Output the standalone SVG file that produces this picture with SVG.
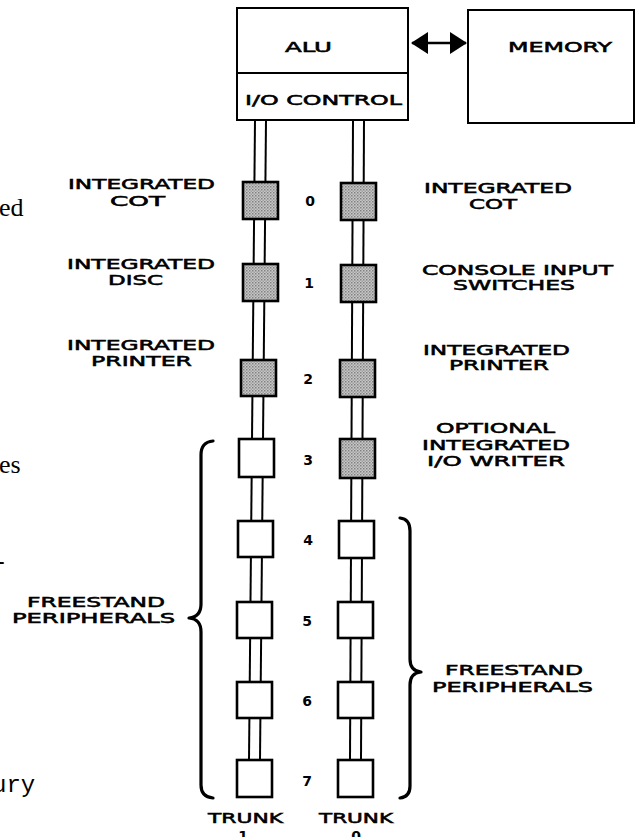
<svg xmlns="http://www.w3.org/2000/svg" width="636" height="837" viewBox="0 0 636 837">
<style>
.box{fill:#fff;stroke:#000;stroke-width:2}
.dev{stroke:#000;stroke-width:2.6}
.shade{fill:url(#dots)}
.plain{fill:#fff}
.trunk{stroke:#000;stroke-width:2;fill:none}
.brace{stroke:#000;stroke-width:3.2;fill:none;stroke-linecap:round;stroke-linejoin:round}
.lbl{font-family:"DejaVu Sans",sans-serif;font-weight:normal;font-size:14px;fill:#000;stroke:#000;stroke-width:0.55}
.num{font-family:"DejaVu Sans",sans-serif;font-weight:bold;font-size:14px;fill:#000;text-anchor:middle}
.frag{font-family:"Liberation Serif",serif;font-size:26px;fill:#000}
.mono{font-family:"Liberation Mono",monospace;font-size:24px;fill:#000}
</style>
<defs>
<pattern id="dots" width="3" height="3" patternUnits="userSpaceOnUse">
<rect width="3" height="3" fill="#c8c8c8"/>
<rect width="1.5" height="1.5" fill="#808080"/>
<rect x="1.5" y="1.5" width="1.5" height="1.5" fill="#a0a0a0"/>
</pattern>
<marker id="ah" viewBox="0 0 17 22" refX="16" refY="11" markerWidth="17" markerHeight="22" markerUnits="userSpaceOnUse" orient="auto-start-reverse">
<path d="M0,0 L17,11 L0,22 Z" fill="#000"/>
</marker>
</defs>

<!-- page fragments at left edge -->
<text class="frag" x="-1" y="216">ed</text>
<text class="frag" x="-1" y="473">es</text>
<text class="frag" x="-4" y="569">-</text>
<text class="mono" x="-8" y="792">ury</text>

<g id="connectors">
<line x1="412" y1="43" x2="466" y2="43" stroke="#000" stroke-width="2.5" marker-start="url(#ah)" marker-end="url(#ah)"/>
<line class="trunk" x1="255" y1="120" x2="249" y2="760"/>
<line class="trunk" x1="266" y1="120" x2="260" y2="760"/>
<line class="trunk" x1="353" y1="120" x2="350" y2="760"/>
<line class="trunk" x1="364" y1="120" x2="361" y2="760"/>
</g>

<g id="alu">
<rect class="box" x="237" y="8" width="171" height="112"/>
<line x1="237" y1="73" x2="408" y2="73" stroke="#000" stroke-width="2"/>
<text class="lbl" x="285" y="52" textLength="47" lengthAdjust="spacingAndGlyphs">ALU</text>
<text class="lbl" x="245" y="105" textLength="157" lengthAdjust="spacingAndGlyphs">I/O CONTROL</text>
</g>

<g id="memory">
<rect class="box" x="468" y="10" width="166" height="113"/>
<text class="lbl" x="508" y="52" textLength="104" lengthAdjust="spacingAndGlyphs">MEMORY</text>
</g>

<g id="trunk1-devices">
<rect class="dev shade" x="243" y="182" width="35" height="37"/>
<rect class="dev shade" x="243" y="264" width="35" height="37"/>
<rect class="dev shade" x="241" y="360" width="35" height="36"/>
<rect class="dev plain" x="239" y="439" width="35" height="38"/>
<rect class="dev plain" x="238" y="521" width="35" height="36"/>
<rect class="dev plain" x="237" y="602" width="35" height="36"/>
<rect class="dev plain" x="237" y="682" width="35" height="36"/>
<rect class="dev plain" x="237" y="760" width="35" height="37"/>
</g>

<g id="trunk0-devices">
<rect class="dev shade" x="341" y="183" width="35" height="37"/>
<rect class="dev shade" x="341" y="265" width="35" height="37"/>
<rect class="dev shade" x="340" y="360" width="35" height="37"/>
<rect class="dev shade" x="340" y="439" width="35" height="39"/>
<rect class="dev plain" x="339" y="521" width="35" height="37"/>
<rect class="dev plain" x="338" y="602" width="35" height="36"/>
<rect class="dev plain" x="338" y="682" width="35" height="36"/>
<rect class="dev plain" x="338" y="760" width="35" height="37"/>
</g>

<g id="numbers">
<text class="num" x="310" y="206">0</text>
<text class="num" x="309" y="288">1</text>
<text class="num" x="308" y="384">2</text>
<text class="num" x="308" y="465">3</text>
<text class="num" x="308" y="545">4</text>
<text class="num" x="307" y="626">5</text>
<text class="num" x="307" y="706">6</text>
<text class="num" x="307" y="786">7</text>
</g>

<g id="left-labels">
<text class="lbl" x="68" y="189" textLength="147" lengthAdjust="spacingAndGlyphs">INTEGRATED</text>
<text class="lbl" x="110" y="206" textLength="55" lengthAdjust="spacingAndGlyphs">COT</text>
<text class="lbl" x="67" y="269" textLength="148" lengthAdjust="spacingAndGlyphs">INTEGRATED</text>
<text class="lbl" x="108" y="285" textLength="55" lengthAdjust="spacingAndGlyphs">DISC</text>
<text class="lbl" x="67" y="350" textLength="148" lengthAdjust="spacingAndGlyphs">INTEGRATED</text>
<text class="lbl" x="91" y="366" textLength="101" lengthAdjust="spacingAndGlyphs">PRINTER</text>
</g>

<g id="right-labels">
<text class="lbl" x="424" y="193" textLength="148" lengthAdjust="spacingAndGlyphs">INTEGRATED</text>
<text class="lbl" x="469" y="209" textLength="48" lengthAdjust="spacingAndGlyphs">COT</text>
<text class="lbl" x="422" y="275" textLength="191" lengthAdjust="spacingAndGlyphs">CONSOLE INPUT</text>
<text class="lbl" x="453" y="290" textLength="122" lengthAdjust="spacingAndGlyphs">SWITCHES</text>
<text class="lbl" x="423" y="355" textLength="147" lengthAdjust="spacingAndGlyphs">INTEGRATED</text>
<text class="lbl" x="449" y="370" textLength="100" lengthAdjust="spacingAndGlyphs">PRINTER</text>
<text class="lbl" x="436" y="433" textLength="119" lengthAdjust="spacingAndGlyphs">OPTIONAL</text>
<text class="lbl" x="422" y="450" textLength="148" lengthAdjust="spacingAndGlyphs">INTEGRATED</text>
<text class="lbl" x="427" y="466" textLength="138" lengthAdjust="spacingAndGlyphs">I/O WRITER</text>
</g>

<g id="left-group">
<path class="brace" d="M213,441 Q201,442 201,455 L201,604 Q201,617 189,618 Q201,619 201,632 L201,785 Q201,797 213,798"/>
<text class="lbl" x="27" y="607" textLength="138" lengthAdjust="spacingAndGlyphs">FREESTAND</text>
<text class="lbl" x="12" y="623" textLength="163" lengthAdjust="spacingAndGlyphs">PERIPHERALS</text>
</g>

<g id="right-group">
<path class="brace" d="M400,518 Q410,519 410,531 L410,659 Q410,671 421,672 Q410,673 410,685 L410,786 Q410,797 400,798"/>
<text class="lbl" x="445" y="675" textLength="138" lengthAdjust="spacingAndGlyphs">FREESTAND</text>
<text class="lbl" x="432" y="692" textLength="161" lengthAdjust="spacingAndGlyphs">PERIPHERALS</text>
</g>

<g id="trunk-labels">
<text class="lbl" x="208" y="823" textLength="75" lengthAdjust="spacingAndGlyphs">TRUNK</text>
<text class="num" x="243" y="841">1</text>
<text class="lbl" x="319" y="823" textLength="74" lengthAdjust="spacingAndGlyphs">TRUNK</text>
<text class="num" x="356" y="841">0</text>
</g>
</svg>
